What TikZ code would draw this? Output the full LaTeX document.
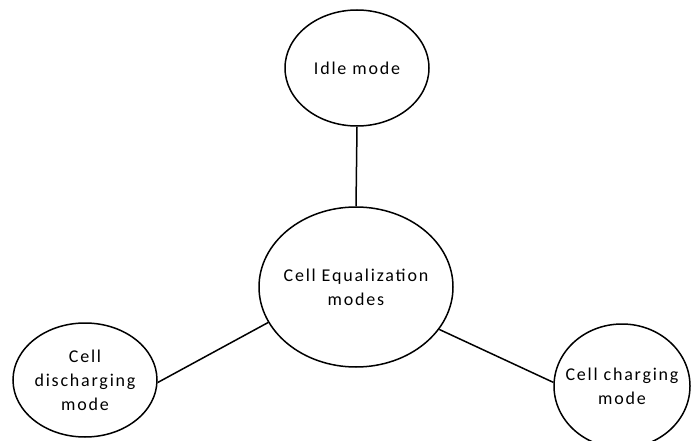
\documentclass[tikz,border=0pt]{standalone}
\usepackage{fontspec}
\setmainfont{Carlito}[LetterSpace=10]
\usetikzlibrary{shapes.geometric}
\begin{document}
\begin{tikzpicture}[x=1pt,y=-1pt,
  mode/.style={ellipse,draw,line width=1.5pt,inner xsep=-30pt,inner ysep=-20pt,align=center,font=\fontsize{18}{24}\selectfont},
  link/.style={line width=1.5pt}]
\useasboundingbox (0,0) rectangle (691,441);
\node[mode,minimum width=144pt,minimum height=116pt] (idle) at (357,68) {Idle mode};
\node[mode,minimum width=194pt,minimum height=160pt] (eq) at (356,287) {Cell Equalization\\modes};
\node[mode,minimum width=144pt,minimum height=114pt] (dis) at (85,380) {Cell\\discharging\\mode};
\node[mode,minimum width=136pt,minimum height=124pt] (chg) at (622,386) {Cell charging\\mode};
\draw[link] (idle.south) -- (eq.north);
\draw[link] (dis.358) -- (eq.202);
\draw[link] (chg.177) -- (eq.333);
\end{tikzpicture}
\end{document}
